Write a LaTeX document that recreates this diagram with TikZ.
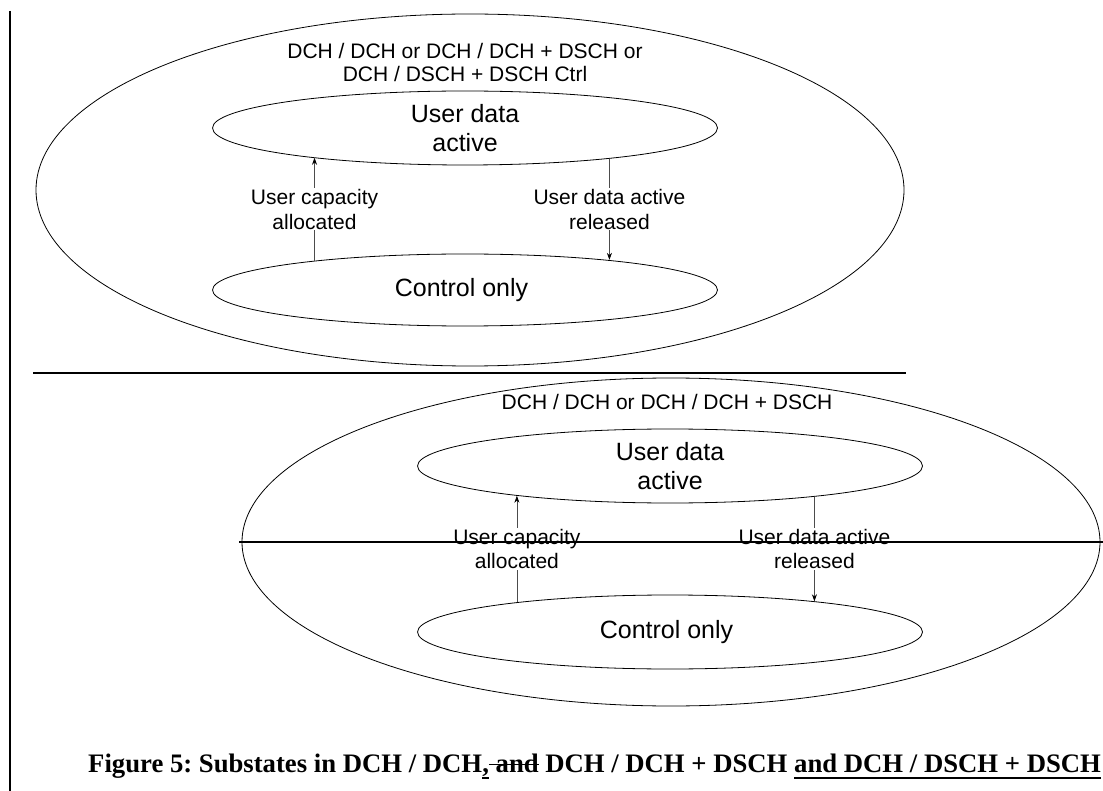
\documentclass[tikz,border=0pt]{standalone}
\usepackage{fontspec}
\setmainfont{Liberation Sans}
\newfontfamily\figfont{Liberation Serif}
\usetikzlibrary{shapes,arrows.meta}
\frenchspacing
\newcommand{\capunder}[1]{{\setbox0\hbox{#1}\rlap{\rule[-6.5pt]{\wd0}{1.5pt}}\box0}}
\newcommand{\capstrike}[1]{{\setbox0\hbox{#1}\rlap{\rule[7pt]{\wd0}{1.5pt}}\box0}}

\begin{document}
\begin{tikzpicture}[x=1pt, y=-1pt,
        outer/.style={draw, ellipse, line width=0.8pt, inner sep=0pt},
        state/.style={draw, ellipse, line width=0.8pt, inner sep=0pt,
            minimum width=505pt, minimum height=74pt, align=center,
            font=\fontsize{25}{29}\selectfont},
        title/.style={align=center, font=\fontsize{21}{23}\selectfont},
        lbl/.style={fill=white, text=black, inner sep=1pt, align=center,
            font=\fontsize{21}{24.5}\selectfont},
        flow/.style={black!70, line width=0.7pt,
            -{Stealth[length=7pt, width=5pt, black]}},
        rule/.style={line width=2pt}]
        \useasboundingbox (0,0) rectangle (1103,791);

        % upper variant
        \node[outer, minimum width=868pt, minimum height=352pt] (TopOuter) at (470,190) {};
        \node[title] (TopTitle) at (465,62) {
            DCH / DCH or DCH / DCH + DSCH or\\DCH / DSCH + DSCH Ctrl
        };
        \node[state] (TopData) at (465,128) {
            User data\\active
        };
        \node[state, minimum height=72pt] (TopCtrl) at (465,290) {
            Control only
        };
        \draw[flow] (TopCtrl.169) to node[lbl] {
            User capacity\\allocated
        } (TopData.191 -| TopCtrl.169);
        \draw[flow] (TopData.348) to node[lbl] {
            User data active\\released
        } (TopCtrl.12 -| TopData.348);

        % lower variant
        \node[outer, minimum width=858pt, minimum height=328pt] (LowOuter) at (671,542) {};
        \node[title] (LowTitle) at (670,402) {
            DCH / DCH or DCH / DCH + DSCH
        };
        \node[state] (LowData) at (670,466) {
            User data\\active
        };
        \node[state] (LowCtrl) at (670,632) {
            Control only
        };
        \draw[flow] (LowCtrl.169) to node[lbl] {
            User capacity\\allocated
        } (LowData.191 -| LowCtrl.169);
        \draw[flow] (LowData.348) to node[lbl] {
            User data active\\released
        } (LowCtrl.12 -| LowData.348);

        % page rules
        \draw[rule] (10,11) -- (10,791);
        \draw[rule] (33,373) -- (906,373);
        \draw[rule] (239,542) -- (1103,542);

        \node[anchor=base west, inner sep=0pt,
            font=\figfont\bfseries\fontsize{26.7}{32}\selectfont] (Caption) at (88,772) {
            Figure 5: Substates in DCH / DCH\capunder{,}\capstrike{ and} DCH / DCH + DSCH \capunder{and DCH / DSCH + DSCH}
        };
\end{tikzpicture}
\end{document}
